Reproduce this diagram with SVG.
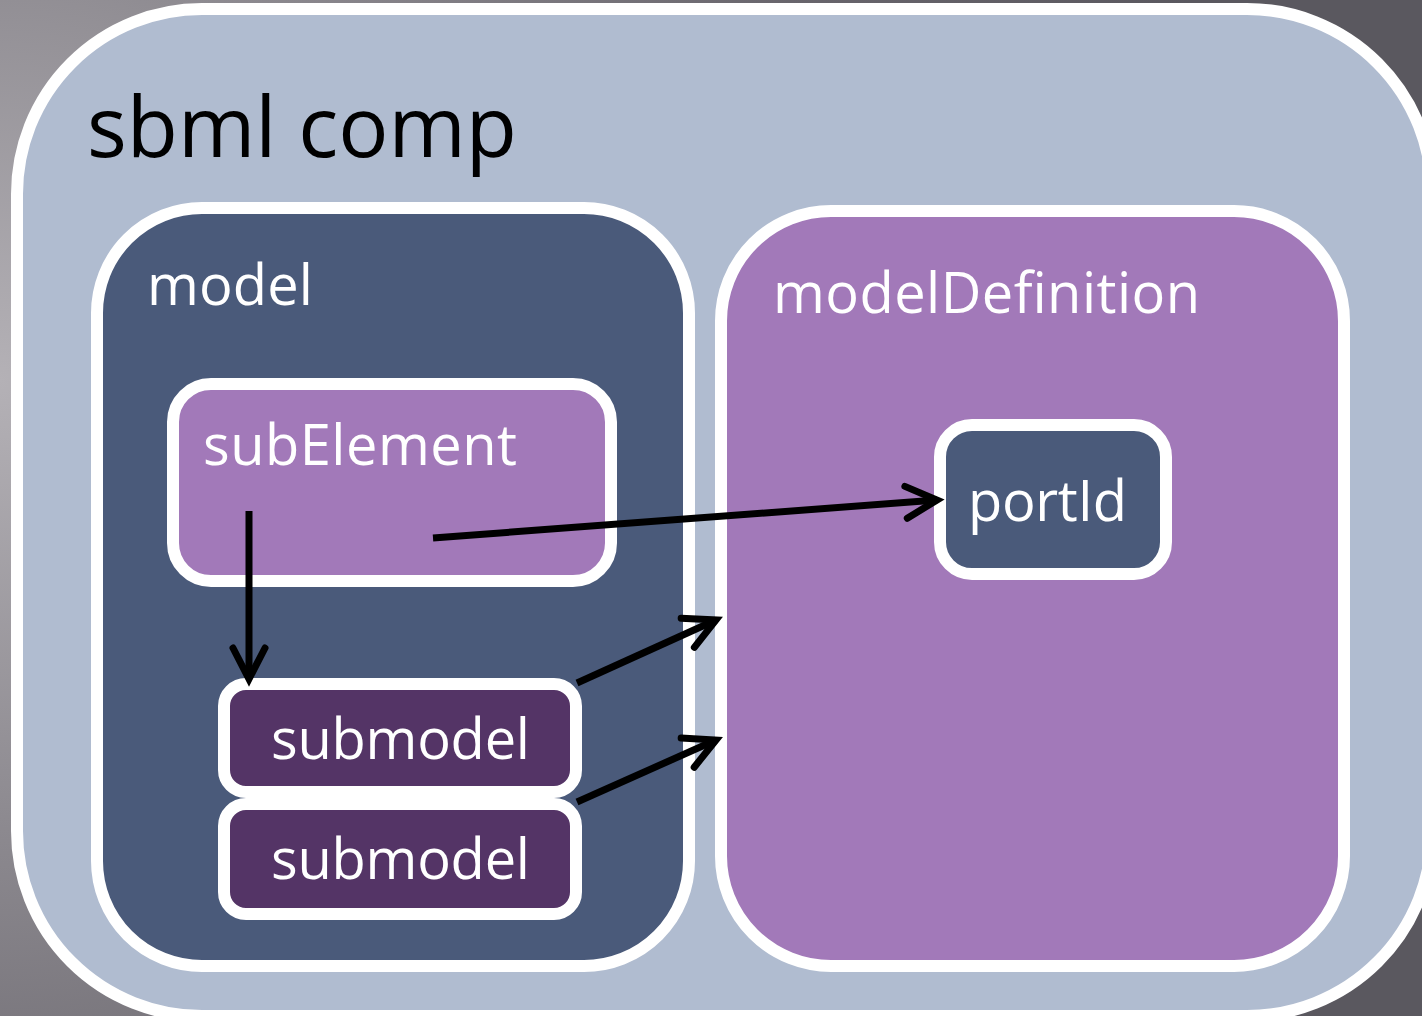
<svg xmlns="http://www.w3.org/2000/svg" width="1422" height="1016" viewBox="0 0 1422 1016">
  <defs>
    <radialGradient id="bg" cx="0" cy="380" r="1250" gradientUnits="userSpaceOnUse">
      <stop offset="0" stop-color="#b4b1b6"/>
      <stop offset="0.35" stop-color="#8d8a90"/>
      <stop offset="0.7" stop-color="#68656c"/>
      <stop offset="1" stop-color="#5a585f"/>
    </radialGradient>
    <marker id="chevron" markerUnits="userSpaceOnUse" markerWidth="50" markerHeight="50" viewBox="-40 -25 50 50" refX="0" refY="0" orient="auto">
      <path d="M-31,-16 L0,0 L-31,16" fill="none" stroke="#000" stroke-width="7" stroke-linecap="round" stroke-linejoin="miter"/>
    </marker>
    <style>
      .box { stroke: #ffffff; stroke-width: 12; }
      .outer { fill: #b0bcd0; }
      .navy { fill: #4a5a7a; }
      .lilac { fill: #a279b9; }
      .plum { fill: #543466; }
      .lbl { font-family: "Open Sans", "Noto Sans", "DejaVu Sans", sans-serif; font-size: 56px; fill: #ffffff; }
      .title { font-family: "Open Sans", "Noto Sans", "DejaVu Sans", sans-serif; font-size: 84px; fill: #000000; }
      .conn { fill: none; stroke: #000; stroke-width: 7; marker-end: url(#chevron); }
    </style>
  </defs>

  <rect x="0" y="0" width="1422" height="1016" fill="url(#bg)"/>

  <g id="sbml-comp">
    <rect class="box outer" x="17" y="9" width="1415" height="1007" rx="185" ry="185"/>
    <text class="title" x="87" y="157" textLength="430" lengthAdjust="spacingAndGlyphs">sbml comp</text>
  </g>

  <g id="model">
    <rect class="box navy" x="97" y="208" width="592" height="758" rx="105" ry="105"/>
    <text class="lbl" x="147" y="305" textLength="166">model</text>
  </g>

  <g id="modelDefinition">
    <rect class="box lilac" x="721" y="211" width="623" height="755" rx="110" ry="110"/>
    <text class="lbl" x="773" y="313" textLength="427">modelDefinition</text>
  </g>

  <g id="subElement">
    <rect class="box lilac" x="173" y="384" width="438" height="197" rx="38" ry="38"/>
    <text class="lbl" x="203" y="465" textLength="314">subElement</text>
  </g>

  <g id="portId">
    <rect class="box navy" x="940" y="425" width="226" height="149" rx="32" ry="32"/>
    <text class="lbl" x="968" y="521" textLength="159">portId</text>
  </g>

  <g id="submodel-1">
    <rect class="box plum" x="224" y="684" width="352" height="108" rx="22" ry="22"/>
    <text class="lbl" x="271" y="759" textLength="259">submodel</text>
  </g>

  <g id="submodel-2">
    <rect class="box plum" x="224" y="804" width="352" height="110" rx="22" ry="22"/>
    <text class="lbl" x="271" y="879" textLength="259">submodel</text>
  </g>

  <g id="connectors">
    <line class="conn" x1="249" y1="511" x2="249" y2="679"/>
    <line class="conn" x1="433" y1="538" x2="937" y2="500"/>
    <line class="conn" x1="577" y1="683" x2="716" y2="620"/>
    <line class="conn" x1="577" y1="802" x2="716" y2="740"/>
  </g>
</svg>
